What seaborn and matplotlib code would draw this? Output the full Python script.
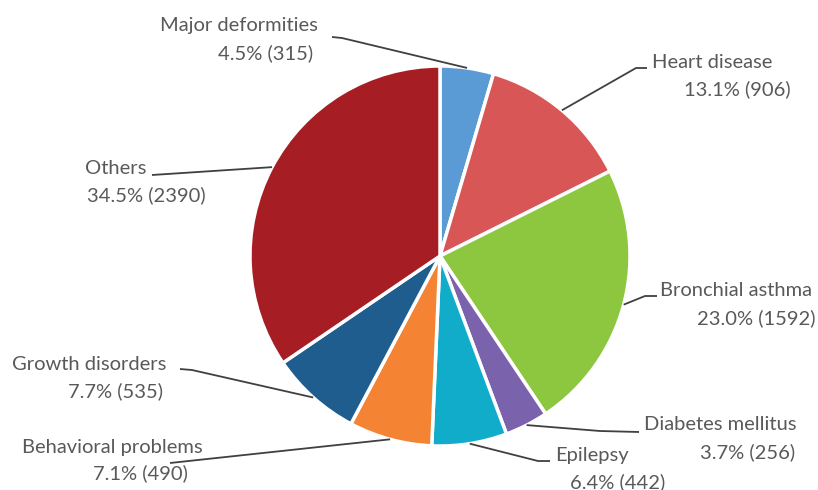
import matplotlib
matplotlib.use("Agg")
import matplotlib.pyplot as plt
import numpy as np
import seaborn as sns

# chart data
categories = ["Major deformities", "Heart disease", "Bronchial asthma",
              "Diabetes mellitus", "Epilepsy", "Behavioral problems",
              "Growth disorders", "Others"]
counts = [315, 906, 1592, 256, 442, 490, 535, 2390]
colors = ["#5B9BD5", "#D95656", "#8DC63F", "#7A62AC",
          "#12ACCB", "#F48434", "#1F5D8F", "#A61D24"]

W, H = 818, 490
CX, CY, R = 440, 256, 190  # pie centre / radius in pixels


def px(x, y):
    # pixel (from top-left) -> data units where pie radius = 1
    return (x - CX) / R, (CY - y) / R


# label layout (pixels): leader elbow, leader end, name line, value line
layout = [
    dict(elbow=(342, 38), end=(332, 37), name=(318, 25, "right"), val=(313, 53, "right")),
    dict(elbow=(636, 68), end=(647, 68), name=(652, 62, "left"), val=(791, 89, "right")),
    dict(elbow=(645, 296), end=(657, 296), name=(660, 290, "left"), val=(816, 318, "right")),
    dict(elbow=(600, 431), end=(639, 432), name=(644, 425, "left"), val=(795, 452, "right")),
    dict(elbow=(538, 461), end=(550, 461), name=(555, 455, "left"), val=(570, 482, "left")),
    dict(elbow=(170, 463), end=(170, 463), name=(22, 447, "left"), val=(188, 473, "right")),
    dict(elbow=(192, 370), end=(180, 369), name=(12, 364, "left"), val=(163, 391, "right")),
    dict(elbow=(152, 175), end=(152, 175), name=(85, 168, "left"), val=(87, 195, "left")),
]

sns.set_theme(style="white")
plt.rcParams["font.family"] = ["Lato", "DejaVu Sans"]

fig = plt.figure(figsize=(W / 100, H / 100), dpi=100)
ax = fig.add_axes([0, 0, 1, 1])

wedges, _ = ax.pie(counts, colors=colors, startangle=90, counterclock=False,
                   radius=1, center=(0, 0),
                   wedgeprops=dict(edgecolor="white", linewidth=2.5))

total = sum(counts)
text_color = "#595959"
line_color = "#404040"
fs = 14.5
for w, name, n, lay in zip(wedges, categories, counts, layout):
    ang = np.deg2rad((w.theta1 + w.theta2) / 2)
    ax0, ay0 = np.cos(ang), np.sin(ang)
    ex, ey = px(*lay["elbow"])
    fx, fy = px(*lay["end"])
    ax.plot([ax0, ex, fx], [ay0, ey, fy], color=line_color, lw=1.3,
            solid_capstyle="butt")
    x, y, ha = lay["name"]
    ax.text(*px(x, y), name, ha=ha, va="center", fontsize=fs, color=text_color)
    x, y, ha = lay["val"]
    ax.text(*px(x, y), f"{n / total * 100:.1f}% ({n})", ha=ha, va="center",
            fontsize=fs, color=text_color)

x0, y1 = px(0, 0)
x1, y0 = px(W, H)
ax.set_xlim(x0, x1)
ax.set_ylim(y0, y1)
ax.set_aspect("equal")
ax.axis("off")

fig.savefig("out.png", dpi=100)
